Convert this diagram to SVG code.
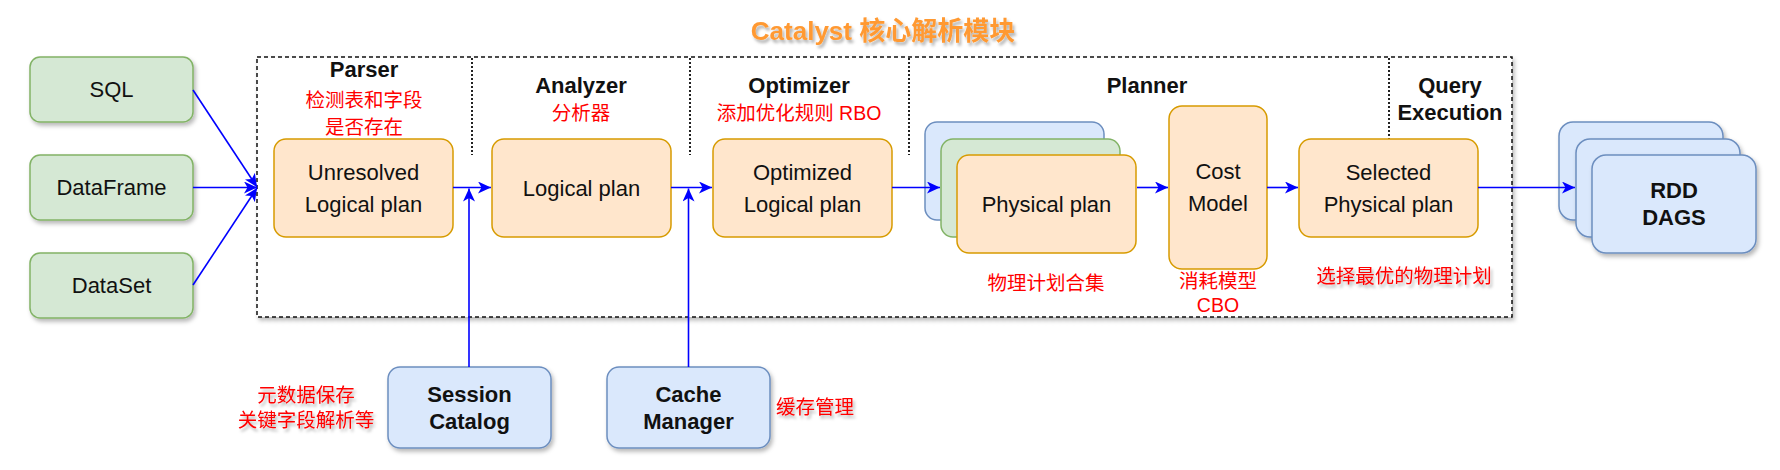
<svg xmlns="http://www.w3.org/2000/svg" width="1780" height="470" viewBox="0 0 1780 470">
<defs>
<filter id="sh" x="-10%" y="-10%" width="130%" height="140%">
<feDropShadow dx="2" dy="3" stdDeviation="2" flood-color="#000" flood-opacity="0.28"/>
</filter>
<filter id="tsh" x="-10%" y="-30%" width="130%" height="180%">
<feDropShadow dx="2" dy="3" stdDeviation="1.8" flood-color="#000" flood-opacity="0.3"/>
</filter>
<marker id="arr" markerUnits="userSpaceOnUse" markerWidth="14" markerHeight="12" refX="13" refY="6" orient="auto">
<path d="M0,0 L13,6 L0,12 L3.5,6 Z" fill="#0000ff"/>
</marker>
</defs>
<style>
text{font-family:"Liberation Sans","Noto Sans CJK SC",sans-serif;text-anchor:middle}
.n{font-size:22px;fill:#111}
.b{font-size:22px;font-weight:bold;fill:#111}
.r{font-size:19.5px;fill:#ff0000}
.g{fill:#d5e8d4;stroke:#82b366;stroke-width:1.5}
.o{fill:#ffe6cc;stroke:#d79b00;stroke-width:1.5}
.u{fill:#dae8fc;stroke:#6c8ebf;stroke-width:1.5}
.div{stroke:#222;stroke-width:2;stroke-dasharray:2 2;fill:none}
.c{stroke:#0000ff;stroke-width:1.6;fill:none}
</style>
<rect width="1780" height="470" fill="#fff"/>

<g id="title">
<text x="883" y="40" style="font-size:26px;font-weight:bold;fill:#ff9933" filter="url(#tsh)">Catalyst 核心解析模块</text>
</g>

<g id="catalyst-container">
<rect x="257" y="57" width="1255" height="260" fill="#fff" stroke="#111" stroke-width="1.5" stroke-dasharray="4 3" filter="url(#sh)"/>
<line class="div" x1="472" y1="58" x2="472" y2="155"/>
<line class="div" x1="690" y1="58" x2="690" y2="155"/>
<line class="div" x1="909" y1="58" x2="909" y2="155"/>
<line class="div" x1="1389" y1="58" x2="1389" y2="139"/>
</g>

<g id="parser-label">
<text class="b" x="364" y="77">Parser</text>
<text class="r" x="364" y="107">检测表和字段</text>
<text class="r" x="364" y="134">是否存在</text>
</g>
<g id="analyzer-label">
<text class="b" x="581" y="93">Analyzer</text>
<text class="r" x="581" y="120">分析器</text>
</g>
<g id="optimizer-label">
<text class="b" x="799" y="93">Optimizer</text>
<text class="r" x="799" y="120">添加优化规则 RBO</text>
</g>
<g id="planner-label">
<text class="b" x="1147" y="93">Planner</text>
</g>
<g id="query-execution-label">
<text class="b" x="1450" y="93">Query</text>
<text class="b" x="1450" y="120">Execution</text>
</g>

<g id="sql">
<rect class="g" x="30" y="57" width="163" height="65" rx="10" filter="url(#sh)"/>
<text class="n" x="111.5" y="97">SQL</text>
</g>
<g id="dataframe">
<rect class="g" x="30" y="155" width="163" height="65" rx="10" filter="url(#sh)"/>
<text class="n" x="111.5" y="195">DataFrame</text>
</g>
<g id="dataset">
<rect class="g" x="30" y="253" width="163" height="65" rx="10" filter="url(#sh)"/>
<text class="n" x="111.5" y="293">DataSet</text>
</g>

<g id="unresolved-logical-plan">
<rect class="o" x="274" y="139" width="179" height="98" rx="12"/>
<text class="n" x="363.5" y="180">Unresolved</text>
<text class="n" x="363.5" y="212">Logical plan</text>
</g>
<g id="logical-plan">
<rect class="o" x="492" y="139" width="179" height="98" rx="12"/>
<text class="n" x="581.5" y="196">Logical plan</text>
</g>
<g id="optimized-logical-plan">
<rect class="o" x="713" y="139" width="179" height="98" rx="12"/>
<text class="n" x="802.5" y="180">Optimized</text>
<text class="n" x="802.5" y="212">Logical plan</text>
</g>
<g id="physical-plans">
<rect class="u" x="925" y="122" width="179" height="98" rx="12"/>
<rect class="g" x="941" y="139" width="179" height="98" rx="12"/>
<rect class="o" x="957" y="155" width="179" height="98" rx="12"/>
<text class="n" x="1046.5" y="212">Physical plan</text>
<text class="r" x="1046" y="290">物理计划合集</text>
</g>
<g id="cost-model">
<rect class="o" x="1169" y="106" width="98" height="163" rx="13"/>
<text class="n" x="1218" y="179">Cost</text>
<text class="n" x="1218" y="211">Model</text>
<text class="r" x="1218" y="288">消耗模型</text>
<text class="r" x="1218" y="312">CBO</text>
</g>
<g id="selected-physical-plan">
<rect class="o" x="1299" y="139" width="179" height="98" rx="12"/>
<text class="n" x="1388.5" y="180">Selected</text>
<text class="n" x="1388.5" y="212">Physical plan</text>
<text class="r" x="1404" y="283" filter="url(#tsh)">选择最优的物理计划</text>
</g>

<g id="rdd-dags">
<rect class="u" x="1559" y="122" width="164" height="98" rx="14" filter="url(#sh)"/>
<rect class="u" x="1576" y="139" width="164" height="98" rx="14" filter="url(#sh)"/>
<rect class="u" x="1592" y="155" width="164" height="98" rx="14" filter="url(#sh)"/>
<text class="b" x="1674" y="198">RDD</text>
<text class="b" x="1674" y="225">DAGS</text>
</g>

<g id="session-catalog">
<rect class="u" x="388" y="367" width="163" height="81" rx="12" filter="url(#sh)"/>
<text class="b" x="469.5" y="402">Session</text>
<text class="b" x="469.5" y="429">Catalog</text>
<text class="r" x="306" y="402" filter="url(#tsh)">元数据保存</text>
<text class="r" x="306" y="427" filter="url(#tsh)">关键字段解析等</text>
</g>
<g id="cache-manager">
<rect class="u" x="607" y="367" width="163" height="81" rx="12" filter="url(#sh)"/>
<text class="b" x="688.5" y="402">Cache</text>
<text class="b" x="688.5" y="429">Manager</text>
<text class="r" x="776" y="414" style="text-anchor:start" filter="url(#tsh)">缓存管理</text>
</g>

<g id="connectors">
<line class="c" x1="193" y1="90" x2="257" y2="187" marker-end="url(#arr)"/>
<line class="c" x1="193" y1="187.5" x2="257" y2="187.5" marker-end="url(#arr)"/>
<line class="c" x1="193" y1="285" x2="257" y2="188" marker-end="url(#arr)"/>
<line class="c" x1="453" y1="187.5" x2="491" y2="187.5" marker-end="url(#arr)"/>
<line class="c" x1="469" y1="367" x2="469" y2="188.5" marker-end="url(#arr)"/>
<line class="c" x1="671" y1="187.5" x2="712" y2="187.5" marker-end="url(#arr)"/>
<line class="c" x1="688.5" y1="367" x2="688.5" y2="188.5" marker-end="url(#arr)"/>
<line class="c" x1="892" y1="187.5" x2="940" y2="187.5" marker-end="url(#arr)"/>
<line class="c" x1="1137" y1="187.5" x2="1168" y2="187.5" marker-end="url(#arr)"/>
<line class="c" x1="1267" y1="187.5" x2="1298" y2="187.5" marker-end="url(#arr)"/>
<line class="c" x1="1478" y1="187.5" x2="1575" y2="187.5" marker-end="url(#arr)"/>
</g>
</svg>
